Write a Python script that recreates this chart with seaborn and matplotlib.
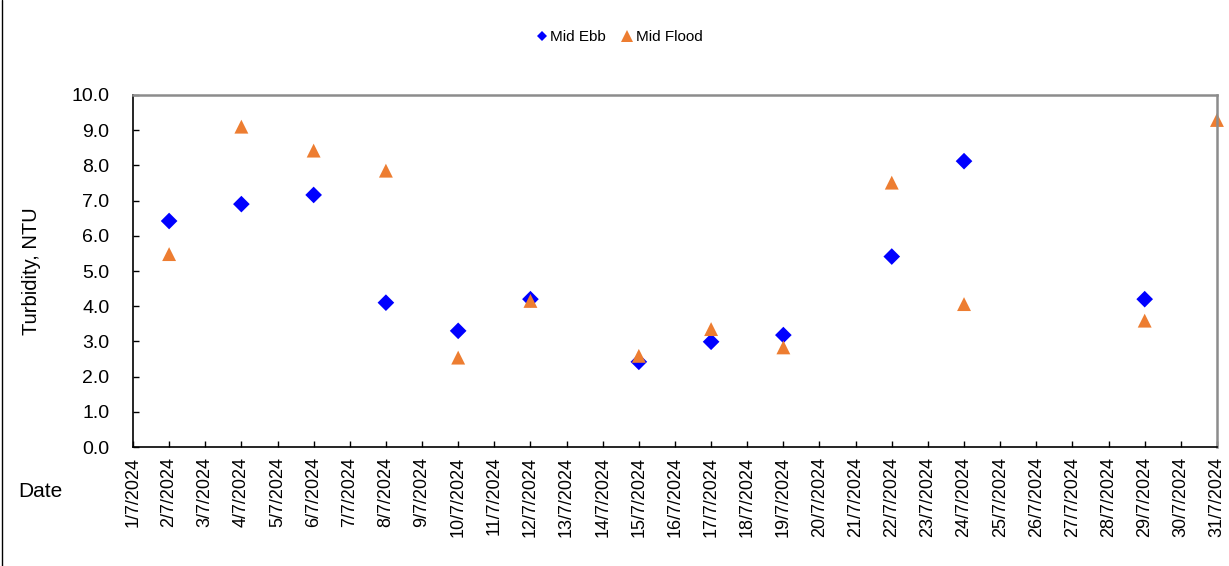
import pandas as pd
import numpy as np
import matplotlib
matplotlib.use("Agg")
import matplotlib.pyplot as plt
import matplotlib.dates as mdates
from matplotlib.ticker import MultipleLocator, FormatStrFormatter
import seaborn as sns


# Sample dates and turbidity readings (NTU)
ebb_dates = ["2024-07-02", "2024-07-04", "2024-07-06", "2024-07-08", "2024-07-10", "2024-07-12",
             "2024-07-15", "2024-07-17", "2024-07-19", "2024-07-22", "2024-07-24", "2024-07-29"]
ebb_values = [6.42, 6.90, 7.16, 4.10, 3.30, 4.20, 2.42, 2.99, 3.18, 5.41, 8.12, 4.20]

flood_dates = ["2024-07-02", "2024-07-04", "2024-07-06", "2024-07-08", "2024-07-10", "2024-07-12",
               "2024-07-15", "2024-07-17", "2024-07-19", "2024-07-22", "2024-07-24", "2024-07-29",
               "2024-07-31"]
flood_values = [5.48, 9.10, 8.42, 7.85, 2.54, 4.15, 2.59, 3.35, 2.83, 7.51, 4.06, 3.59, 9.29]

series_names = ["Mid Ebb", "Mid Flood"]
series_colors = {"Mid Ebb": "#0000FF", "Mid Flood": "#ED7D31"}
series_markers = {"Mid Ebb": "D", "Mid Flood": "^"}
series_sizes = {"Mid Ebb": 72, "Mid Flood": 100}


def build_frame():
    ebb = pd.DataFrame({"Date": pd.to_datetime(ebb_dates), "Turbidity": ebb_values, "Series": "Mid Ebb"})
    flood = pd.DataFrame({"Date": pd.to_datetime(flood_dates), "Turbidity": flood_values, "Series": "Mid Flood"})
    return pd.concat([ebb, flood], ignore_index=True)


def main():
    df = build_frame()

    sns.set_theme(style="white")
    plt.rcParams["font.family"] = ["Liberation Sans", "DejaVu Sans"]
    for key in ["text.color", "axes.labelcolor", "xtick.color", "ytick.color"]:
        plt.rcParams[key] = "black"

    fig = plt.figure(figsize=(12.29, 5.66), dpi=100)
    ax = fig.add_axes([0.1082, 0.2102, 0.882, 0.622])

    sns.scatterplot(data=df, x="Date", y="Turbidity", hue="Series", style="Series", size="Series",
                    hue_order=series_names, style_order=series_names, size_order=series_names,
                    palette=series_colors, markers=series_markers, sizes=series_sizes,
                    linewidth=0, ax=ax, legend=True, clip_on=False)

    # axis ranges and ticks
    ax.set_xlim(pd.Timestamp("2024-07-01"), pd.Timestamp("2024-07-31"))
    ax.set_ylim(0, 10)
    ax.xaxis.set_major_locator(mdates.DayLocator(interval=1))
    ax.xaxis.set_major_formatter(plt.FuncFormatter(
        lambda v, pos: (lambda d: f"{d.day}/{d.month}/{d.year}")(mdates.num2date(v))))
    ax.yaxis.set_major_locator(MultipleLocator(1.0))
    ax.yaxis.set_major_formatter(FormatStrFormatter("%.1f"))
    ax.tick_params(axis="x", direction="in", length=4, width=1, color="black", labelcolor="black",
                   labelsize=13, labelrotation=90, pad=7, bottom=True)
    ax.tick_params(axis="y", direction="in", length=4, width=1, color="black", labelcolor="black",
                   labelsize=14, pad=17, left=True)

    ax.set_xlabel("")
    ax.set_ylabel("Turbidity, NTU", fontsize=14.5, labelpad=22, color="black")

    for side in ["left", "bottom"]:
        ax.spines[side].set_color("black")
        ax.spines[side].set_linewidth(1.2)
    for side in ["top", "right"]:
        ax.spines[side].set_color("#8C8C8C")
        ax.spines[side].set_linewidth(1.8)

    handles, labels = ax.get_legend_handles_labels()
    for h in handles:
        h.set_markersize(5.5 if h.get_label() == "Mid Ebb" else 8)
    leg = ax.legend(handles, labels, loc="center", bbox_to_anchor=(0.503, 0.934), bbox_transform=fig.transFigure,
                    ncol=2, frameon=False, fontsize=11, handletextpad=0.05, columnspacing=0.9,
                    handlelength=1.0)
    for t in leg.get_texts():
        t.set_color("black")

    fig.text(0.015, 0.131, "Date", fontsize=15, ha="left", va="center", color="black")

    # chart area border on the left edge
    fig.add_artist(plt.Line2D([0.0015, 0.0015], [0, 1], transform=fig.transFigure, color="black", linewidth=1))

    fig.savefig("out.png", dpi=100)


if __name__ == "__main__":
    main()
